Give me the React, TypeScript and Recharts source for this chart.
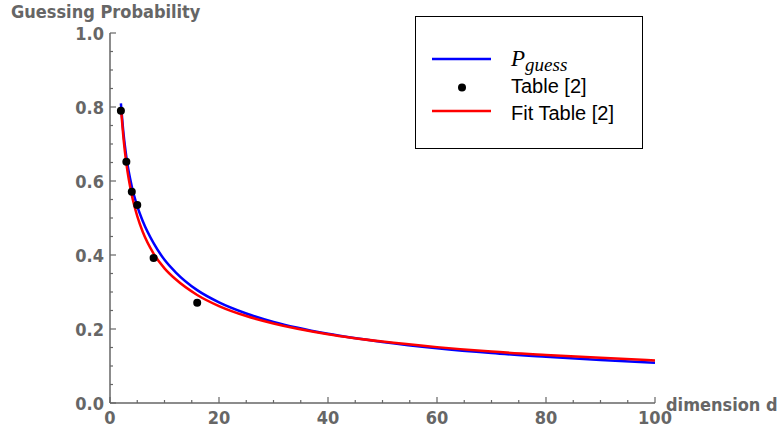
import React from 'react';
import { ComposedChart, Line, Scatter, XAxis, YAxis, Legend } from 'recharts';

// curve samples
const dimension = [2, 2.5, 3, 4, 5, 6, 8, 10, 12, 16, 20, 25, 30, 40, 50, 60, 70, 80, 90, 100];
const pGuess = [0.81, 0.725, 0.665, 0.585, 0.532, 0.492, 0.432, 0.387, 0.354, 0.305, 0.272, 0.242, 0.219, 0.187, 0.165, 0.148, 0.135, 0.125, 0.116, 0.109];
const fitTable = [0.8, 0.712, 0.648, 0.562, 0.505, 0.463, 0.404, 0.364, 0.335, 0.292, 0.262, 0.235, 0.215, 0.186, 0.166, 0.151, 0.139, 0.13, 0.122, 0.115];

// Table [2] points
const tableDimension = [2, 3, 4, 5, 8, 16];
const tableProbability = [0.79, 0.652, 0.571, 0.535, 0.392, 0.271];

const xTicks = [0, 5, 10, 15, 20, 25, 30, 35, 40, 45, 50, 55, 60, 65, 70, 75, 80, 85, 90, 95, 100];
const yTicks = [0, 0.05, 0.1, 0.15, 0.2, 0.25, 0.3, 0.35, 0.4, 0.45, 0.5, 0.55, 0.6, 0.65, 0.7, 0.75, 0.8, 0.85, 0.9, 0.95, 1];

const curveRows = dimension.map((d, i) => ({ d, pGuess: pGuess[i], fit: fitTable[i] }));
const tableRows = tableDimension.map((d, i) => ({ d, p: tableProbability[i] }));

const GREY = '#666';
const labelFont = {
    fontFamily: "'DejaVu Sans Condensed', 'DejaVu Sans', sans-serif",
    fontStretch: 'condensed' as const,
    fontWeight: 'bold' as const,
    fontSize: 18,
    fill: GREY,
};

const XTick = (props: any) => {
    const { x, y, payload } = props;
    const major = payload.value % 20 === 0;
    return (
        <g>
            <line x1={x} x2={x} y1={y} y2={y - (major ? 6 : 3)} stroke={GREY} strokeWidth={1.2} />
            {major && (
                <text x={x} y={y + 21} textAnchor="middle" {...labelFont}>
                    {payload.value}
                </text>
            )}
        </g>
    );
};

const YTick = (props: any) => {
    const { x, y, payload } = props;
    const major = Math.round(payload.value * 20) % 4 === 0;
    return (
        <g>
            <line x1={x} x2={x + (major ? 6 : 3)} y1={y} y2={y} stroke={GREY} strokeWidth={1.2} />
            {major && (
                <text x={x - 6} y={y + 6.5} textAnchor="end" {...labelFont}>
                    {payload.value.toFixed(1)}
                </text>
            )}
        </g>
    );
};

const YTitle = () => (
    <text x={11} y={18} {...labelFont}>Guessing Probability</text>
);

const XTitle = () => (
    <text x={666} y={411} {...labelFont}>dimension d</text>
);

const LegendBox = () => {
    const textStyle = { fontFamily: "'Liberation Sans', Arial, sans-serif", fontSize: 20, fill: '#000' };
    return (
        <svg width={228} height={133} style={{ display: 'block' }}>
            <rect x={0.5} y={0.5} width={227} height={132} fill="#fff" stroke="#000" strokeWidth={1} />
            <line x1={17} x2={76} y1={43} y2={43} stroke="#0000ff" strokeWidth={2.5} />
            <text x={96} y={50} fontFamily="'Liberation Serif', serif" fontStyle="italic" fontSize={23} fill="#000">
                P<tspan fontSize={19} dy={5}>guess</tspan>
            </text>
            <circle cx={47} cy={71.5} r={4} fill="#000" />
            <text x={96} y={77} {...textStyle}>Table [2]</text>
            <line x1={17} x2={76} y1={95} y2={95} stroke="#ff0000" strokeWidth={2.5} />
            <text x={96} y={104} {...textStyle}>Fit Table [2]</text>
        </svg>
    );
};

const GuessingChart: React.FC = () => {
    return (
        <div style={{ width: 783, height: 435 }}>
            <style>{'body{margin:0}'}</style>
            <ComposedChart width={783} height={435} margin={{ top: 33, right: 128, bottom: 0, left: 50 }}>
                <XAxis
                    dataKey="d"
                    type="number"
                    domain={[0, 100]}
                    ticks={xTicks}
                    interval={0}
                    height={32}
                    tickSize={0}
                    tickMargin={0}
                    tickLine={false}
                    tick={<XTick />}
                    axisLine={{ stroke: GREY, strokeWidth: 1.5 }}
                    label={<XTitle />}
                />
                <YAxis
                    type="number"
                    domain={[0, 1]}
                    ticks={yTicks}
                    interval={0}
                    width={60}
                    tickSize={0}
                    tickMargin={0}
                    tickLine={false}
                    tick={<YTick />}
                    axisLine={{ stroke: GREY, strokeWidth: 1.5 }}
                    label={<YTitle />}
                />
                <Legend
                    layout="vertical"
                    align="center"
                    verticalAlign="middle"
                    content={<LegendBox />}
                    wrapperStyle={{ position: 'absolute', left: 415, top: 16, width: 228, height: 133 }}
                />
                <Line data={curveRows} dataKey="pGuess" type="monotone" stroke="#0000ff" strokeWidth={2.5} dot={false} isAnimationActive={false} />
                <Line data={curveRows} dataKey="fit" type="monotone" stroke="#ff0000" strokeWidth={2.5} dot={false} isAnimationActive={false} />
                <Scatter
                    data={tableRows}
                    dataKey="p"
                    fill="#000"
                    isAnimationActive={false}
                    shape={(p: any) => <circle cx={p.cx} cy={p.cy} r={4} fill="#000" />}
                />
            </ComposedChart>
        </div>
    );
};

export default function App() {
    return <GuessingChart />;
}
